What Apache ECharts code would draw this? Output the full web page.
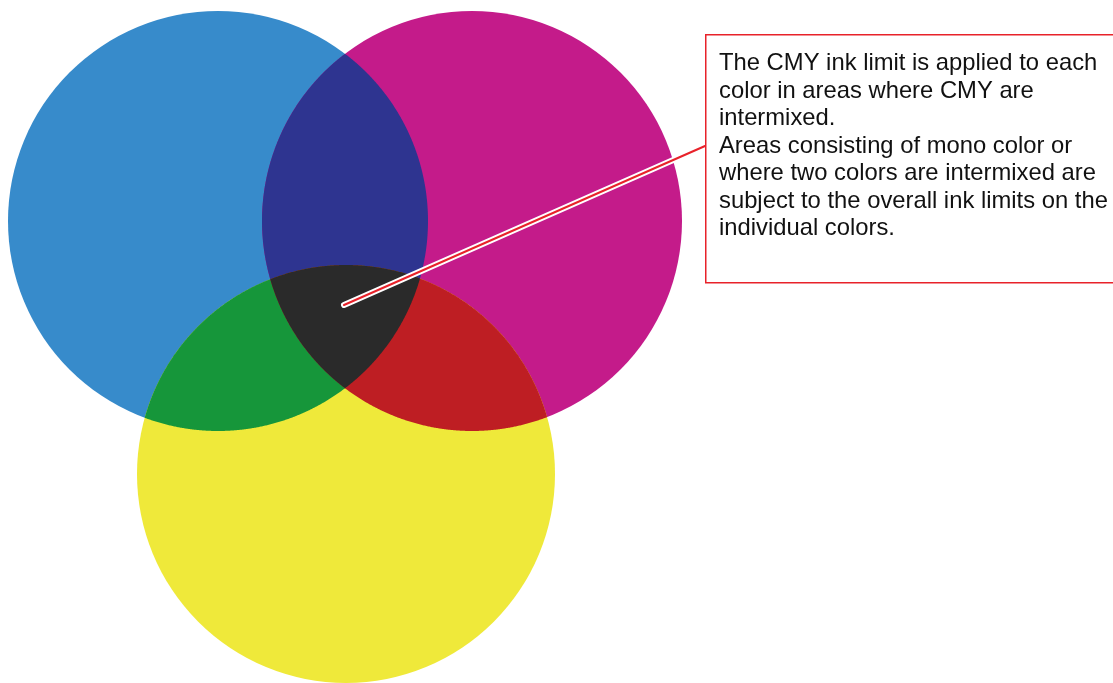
<!DOCTYPE html>
<html>
<head>
<meta charset="utf-8">
<script src="https://cdn.jsdelivr.net/npm/echarts@6/dist/echarts.min.js"></script>
<style>
  html, body { margin: 0; padding: 0; background: #fff; }
  #chart { width: 1113px; height: 683px; }
</style>
</head>
<body>
<div id="chart"></div>
<script>
// circles of the CMY diagram (axis units = pixels)
const sets = ['C', 'M', 'Y']
const centerX = [218, 472, 346]
const centerY = [221, 221, 474]
const radius = [210, 210, 209]

// regions, drawn in this order (overlaps painted over the single circles)
const regions = [['C'], ['M'], ['Y'], ['C', 'M'], ['C', 'Y'], ['M', 'Y'], ['C', 'M', 'Y']]
const regionColors = ['#378bcb', '#c41b8a', '#efe93a', '#2e3490', '#16963a', '#be1e23', '#2a2a2a']

// callout: leader line from the CMY area to the note box
const leaderFrom = [344, 305]
const leaderTo = [705, 146]
const noteText = [
  'The CMY ink limit is applied to each',
  'color in areas where CMY are',
  'intermixed.',
  'Areas consisting of mono color or',
  'where two colors are intermixed are',
  'subject to the overall ink limits on the',
  'individual colors.'
]

const chart = echarts.init(document.getElementById('chart'))

function circlesPx (api, names) {
  return names.map(n => {
    const i = sets.indexOf(n)
    const c = api.coord([centerX[i], centerY[i]])
    const e = api.coord([centerX[i] + radius[i], centerY[i]])
    return { x: c[0], y: c[1], r: Math.abs(e[0] - c[0]) }
  })
}

function inside (p, c, tol) {
  const dx = p[0] - c.x
  const dy = p[1] - c.y
  return dx * dx + dy * dy <= (c.r + tol) * (c.r + tol)
}

// boundary of the intersection of circles (convex), as a polygon
function regionPoints (circles) {
  const pts = []
  const steps = 1440
  circles.forEach((c, i) => {
    for (let k = 0; k < steps; k++) {
      const a = (k / steps) * Math.PI * 2
      const p = [c.x + c.r * Math.cos(a), c.y + c.r * Math.sin(a)]
      if (circles.every((o, j) => j === i || inside(p, o, 0.01))) pts.push(p)
    }
  })
  // add the exact corner points
  for (let i = 0; i < circles.length; i++) {
    for (let j = i + 1; j < circles.length; j++) {
      const a = circles[i]
      const b = circles[j]
      const dx = b.x - a.x
      const dy = b.y - a.y
      const d = Math.sqrt(dx * dx + dy * dy)
      const l = (d * d + a.r * a.r - b.r * b.r) / (2 * d)
      const h = Math.sqrt(Math.max(0, a.r * a.r - l * l))
      const mx = a.x + (dx * l) / d
      const my = a.y + (dy * l) / d
      const cands = [[mx - (dy * h) / d, my + (dx * h) / d], [mx + (dy * h) / d, my - (dx * h) / d]]
      cands.forEach(p => {
        if (circles.every(o => inside(p, o, 0.5))) pts.push(p)
      })
    }
  }
  let cx = 0
  let cy = 0
  pts.forEach(p => { cx += p[0]; cy += p[1] })
  cx /= pts.length
  cy /= pts.length
  pts.sort((p, q) => Math.atan2(p[1] - cy, p[0] - cx) - Math.atan2(q[1] - cy, q[0] - cx))
  return pts
}

const option = {
  animation: false,
  backgroundColor: '#ffffff',
  grid: { left: 0, right: 0, top: 0, bottom: 0 },
  xAxis: { type: 'value', min: 0, max: 1113, show: false },
  yAxis: { type: 'value', min: 0, max: 683, inverse: true, show: false },
  series: [
    {
      type: 'custom',
      coordinateSystem: 'cartesian2d',
      silent: true,
      data: regions.map((r, i) => ({ value: [i], itemStyle: { color: regionColors[i] } })),
      renderItem: (params, api) => {
        const idx = api.value(0)
        const circles = circlesPx(api, regions[idx])
        const fill = api.visual('color')
        if (circles.length === 1) {
          const c = circles[0]
          return { type: 'circle', shape: { cx: c.x, cy: c.y, r: c.r }, style: { fill: fill } }
        }
        return { type: 'polygon', shape: { points: regionPoints(circles) }, style: { fill: fill } }
      }
    },
    {
      type: 'lines',
      coordinateSystem: 'cartesian2d',
      silent: true,
      data: [{ coords: [leaderFrom, leaderTo] }],
      lineStyle: { color: '#ffffff', width: 6, opacity: 1, cap: 'round' },
      z: 3
    },
    {
      type: 'lines',
      coordinateSystem: 'cartesian2d',
      silent: true,
      data: [{ coords: [leaderFrom, leaderTo] }],
      lineStyle: { color: '#e8222a', width: 2, opacity: 1, cap: 'round' },
      z: 4
    }
  ],
  graphic: [
    {
      type: 'rect',
      left: 705,
      top: 34,
      shape: { width: 430, height: 248 },
      style: { fill: '#ffffff', stroke: '#e8222a', lineWidth: 1.5 },
      z: 10
    },
    {
      type: 'text',
      left: 719,
      top: 50,
      style: {
        text: noteText.join('\n'),
        fontFamily: 'Liberation Sans, Arial, sans-serif',
        fontSize: 23.8,
        lineHeight: 27.5,
        fill: '#111111'
      },
      z: 11
    }
  ]
}

chart.setOption(option)
</script>
</body>
</html>
